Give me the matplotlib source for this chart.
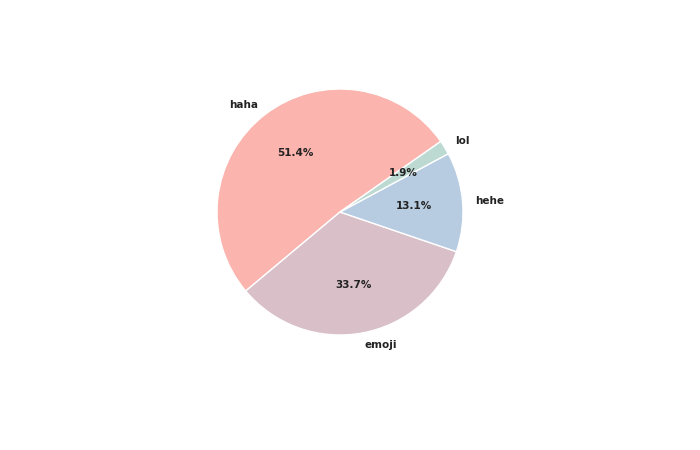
import matplotlib.pyplot as plt

labels = ['haha', 'emoji', 'hehe', 'lol']
shares = [51.38, 33.67, 13.09, 1.86]
colors = ['#fbb4ae', '#d9bfc7', '#b7cbe1', '#bcd9d2']

fig = plt.figure(figsize=(7, 4.5), dpi=100)
r = 123
ax = fig.add_axes([(340 - r) / 700, (450 - 212 - r) / 450, 2 * r / 700, 2 * r / 450])

wedges, texts, autotexts = ax.pie(
    shares, labels=labels, colors=colors, autopct='%1.1f%%',
    startangle=35, wedgeprops={'edgecolor': 'white', 'linewidth': 1},
    textprops={'fontsize': 7.5, 'fontweight': 'bold', 'color': '#222222'},
)
ax.set_xlim(-1, 1)
ax.set_ylim(-1, 1)
ax.set_aspect('equal')

fig.savefig('out.png', dpi=100)
